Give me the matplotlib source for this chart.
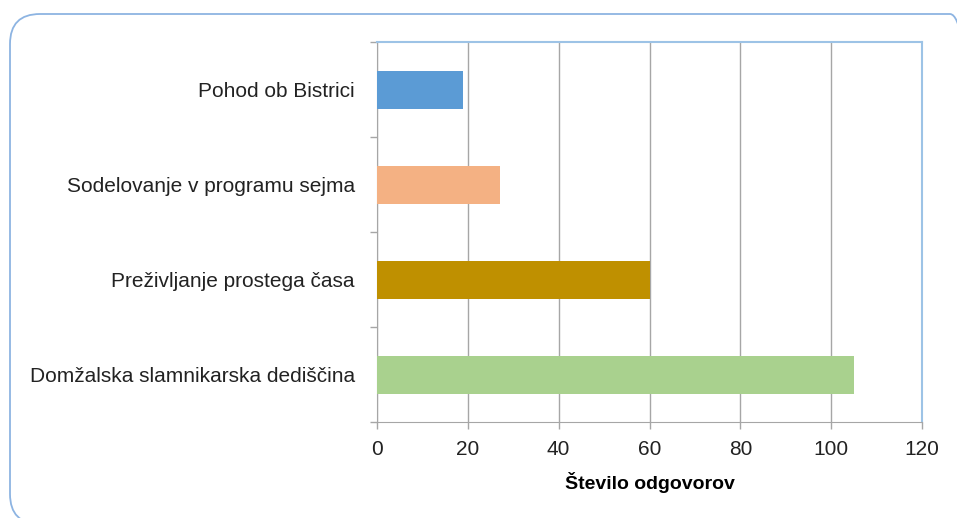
import matplotlib
matplotlib.use("Agg")
import matplotlib.pyplot as plt
from matplotlib.patches import FancyBboxPatch
from matplotlib.transforms import IdentityTransform
from matplotlib.ticker import MultipleLocator, FixedLocator

categories = ["Domžalska slamnikarska dediščina", "Preživljanje prostega časa",
              "Sodelovanje v programu sejma", "Pohod ob Bistrici"]
values = [105, 60, 27, 19]
colors = ["#a9d18e", "#bf9000", "#f4b183", "#5b9bd5"]
xlabel = "Število odgovorov"

plt.rcParams['font.family'] = ['Liberation Sans', 'DejaVu Sans']

fig = plt.figure(figsize=(9.57, 5.18), dpi=100)
W, H = 957, 518
# rounded outer frame (pixel coordinates, origin bottom-left)
left_px, top_px, right_px, bot_px = 10, 14, 980, 524
frame = FancyBboxPatch((left_px, H - bot_px), right_px - left_px, bot_px - top_px,
                       boxstyle="round,pad=0,rounding_size=30",
                       transform=IdentityTransform(), fill=False,
                       edgecolor="#8db4e2", linewidth=1.3)
fig.patches.append(frame)

ax = fig.add_axes([377 / W, 1 - 422 / H, (922 - 377) / W, (422 - 42) / H])
y = range(len(categories))
ax.barh(list(y), values, height=0.4, color=colors, zorder=3)
ax.set_xlim(0, 120)
ax.set_ylim(-0.5, len(categories) - 0.5)
ax.xaxis.set_major_locator(MultipleLocator(20))
ax.grid(axis="x", color="#a6a6a6", linewidth=1, zorder=0)
ax.set_yticks(list(y))
ax.set_yticklabels(categories, fontsize=15, color="#222222")
ax.tick_params(axis="y", length=0, pad=16)
ax.yaxis.set_minor_locator(FixedLocator([i - 0.5 for i in range(len(categories) + 1)]))
ax.tick_params(axis="y", which="minor", length=5, color="#a6a6a6", width=1)
ax.tick_params(axis="x", length=5, color="#a6a6a6", width=1, labelsize=15,
               labelcolor="#222222", pad=8)
ax.set_xlabel(xlabel, fontsize=14, fontweight="bold", labelpad=9)
for s in ["left", "bottom"]:
    ax.spines[s].set_color("#a6a6a6")
for s in ["top", "right"]:
    ax.spines[s].set_color("#9dc3e6")
    ax.spines[s].set_linewidth(1.5)

fig.savefig("out.png", dpi=100)
